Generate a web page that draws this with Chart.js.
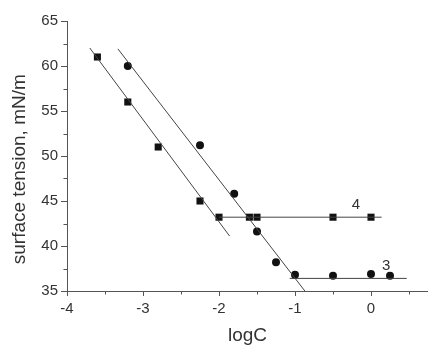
<!DOCTYPE html>
<html>
<head>
<meta charset="utf-8">
<script src="https://cdn.jsdelivr.net/npm/chart.js@4/dist/chart.umd.min.js"></script>
<style>
  html, body { margin: 0; background: #fff; overflow: hidden; }
  /* 5px wider than the window: chart.js keeps a small gap on the right, the x axis should reach the edge */
  #wrap { width: 433px; height: 347px; position: relative; }
</style>
</head>
<body>
<div id="wrap"><canvas id="tensionChart"></canvas></div>
<script>
"use strict"

//data
const sqLogC = [-3.6, -3.2, -2.8, -2.25, -2.0, -1.6, -1.5, -0.5, 0];
const sqTension = [61, 56, 51, 45, 43.2, 43.2, 43.2, 43.2, 43.2];
const ciLogC = [-3.2, -2.25, -1.8, -1.5, -1.25, -1, -0.5, 0, 0.25];
const ciTension = [60, 51.2, 45.8, 41.6, 38.2, 36.8, 36.7, 36.9, 36.7];

//fitted lines (end points)
const fit4X = [-3.7, -1.86];
const fit4Y = [62.0, 41.1];
const plateau4X = [-2.0, 0.14];
const plateau4Y = [43.2, 43.2];
const fit3X = [-3.33, -0.87];
const fit3Y = [61.9, 35.0];
const plateau3X = [-1.07, 0.47];
const plateau3Y = [36.4, 36.4];

//ticks
const xTicks = [-4, -3, -2, -1, 0];
const xMinorTicks = [-3.5, -2.5, -1.5, -0.5, 0.5];
const yTicks = [35, 40, 45, 50, 55, 60, 65];
const yMinorTicks = [37.5, 42.5, 47.5, 52.5, 57.5, 62.5];

//curve labels
const curveNames = ["4", "3"];
const curveNameX = [-0.2, 0.2];
const curveNameY = [44.6, 37.8];

const inkColor = "#333";
const axisColor = "#555";

function toPoints(xs, ys) {
  return xs.map((x, i) => ({ x: x, y: ys[i] }));
}

function lineSet(xs, ys) {
  return {
    data: toPoints(xs, ys),
    showLine: true,
    borderColor: "#444",
    borderWidth: 1,
    pointRadius: 0,
    fill: false
  };
}

//minor ticks and curve numbers
const extrasPlugin = {
  id: "extras",
  afterDraw(chart) {
    const ctx = chart.ctx;
    const xScale = chart.scales.x;
    const yScale = chart.scales.y;
    const area = chart.chartArea;
    ctx.save();
    ctx.strokeStyle = axisColor;
    ctx.lineWidth = 1;
    ctx.beginPath();
    for (let v of xMinorTicks) {
      const px = Math.round(xScale.getPixelForValue(v)) + 0.5;
      ctx.moveTo(px, area.bottom);
      ctx.lineTo(px, area.bottom + 3.5);
    }
    for (let v of yMinorTicks) {
      const py = Math.round(yScale.getPixelForValue(v)) + 0.5;
      ctx.moveTo(area.left, py);
      ctx.lineTo(area.left - 3.5, py);
    }
    ctx.stroke();

    ctx.fillStyle = inkColor;
    ctx.font = "15px 'Liberation Sans', Arial, sans-serif";
    ctx.textAlign = "center";
    ctx.textBaseline = "middle";
    for (let i = 0; i < curveNames.length; i++) {
      ctx.fillText(curveNames[i], xScale.getPixelForValue(curveNameX[i]), yScale.getPixelForValue(curveNameY[i]));
    }
    ctx.restore();
  }
};

const ctx = document.getElementById("tensionChart").getContext("2d");

const tensionChart = new Chart(ctx, {
  type: "scatter",
  data: {
    datasets: [
      lineSet(fit4X, fit4Y),
      lineSet(plateau4X, plateau4Y),
      lineSet(fit3X, fit3Y),
      lineSet(plateau3X, plateau3Y),
      {
        data: toPoints(sqLogC, sqTension),
        pointStyle: "rect",
        pointRadius: 5,
        backgroundColor: "#111",
        borderColor: "#111",
        borderWidth: 0
      },
      {
        data: toPoints(ciLogC, ciTension),
        pointStyle: "circle",
        pointRadius: 4,
        backgroundColor: "#111",
        borderColor: "#111",
        borderWidth: 0
      }
    ]
  },
  options: {
    responsive: true,
    maintainAspectRatio: false,
    animation: false,
    layout: { padding: { top: 21, right: 0, left: 0, bottom: 0 } },
    plugins: {
      legend: { display: false },
      tooltip: { enabled: false }
    },
    scales: {
      x: {
        type: "linear",
        min: -4,
        max: 0.75,
        afterBuildTicks: scale => { scale.ticks = xTicks.map(v => ({ value: v })); },
        afterFit: scale => {
          scale.height = 56;
          scale.paddingLeft = 0;
          scale.paddingRight = 0;
        },
        grid: { drawOnChartArea: false, tickLength: 5, tickColor: axisColor },
        border: { color: axisColor, width: 1 },
        ticks: {
          color: inkColor,
          padding: 4,
          maxRotation: 0,
          font: { family: "'Liberation Sans', Arial, sans-serif", size: 15 }
        },
        title: {
          display: true,
          text: "logC",
          color: inkColor,
          padding: { top: 0, bottom: 0 },
          font: { family: "'Liberation Sans', Arial, sans-serif", size: 19 }
        }
      },
      y: {
        type: "linear",
        min: 35,
        max: 65,
        afterBuildTicks: scale => { scale.ticks = yTicks.map(v => ({ value: v })); },
        afterFit: scale => { scale.width = 67; },
        grid: { drawOnChartArea: false, tickLength: 6, tickColor: axisColor },
        border: { color: axisColor, width: 1 },
        ticks: {
          color: inkColor,
          padding: 3,
          font: { family: "'Liberation Sans', Arial, sans-serif", size: 15 }
        },
        title: {
          display: true,
          text: "surface tension, mN/m     ",
          color: inkColor,
          padding: { top: 8, bottom: 0 },
          font: { family: "'Liberation Sans', Arial, sans-serif", size: 19 }
        }
      }
    }
  },
  plugins: [extrasPlugin]
});
</script>
</body>
</html>
